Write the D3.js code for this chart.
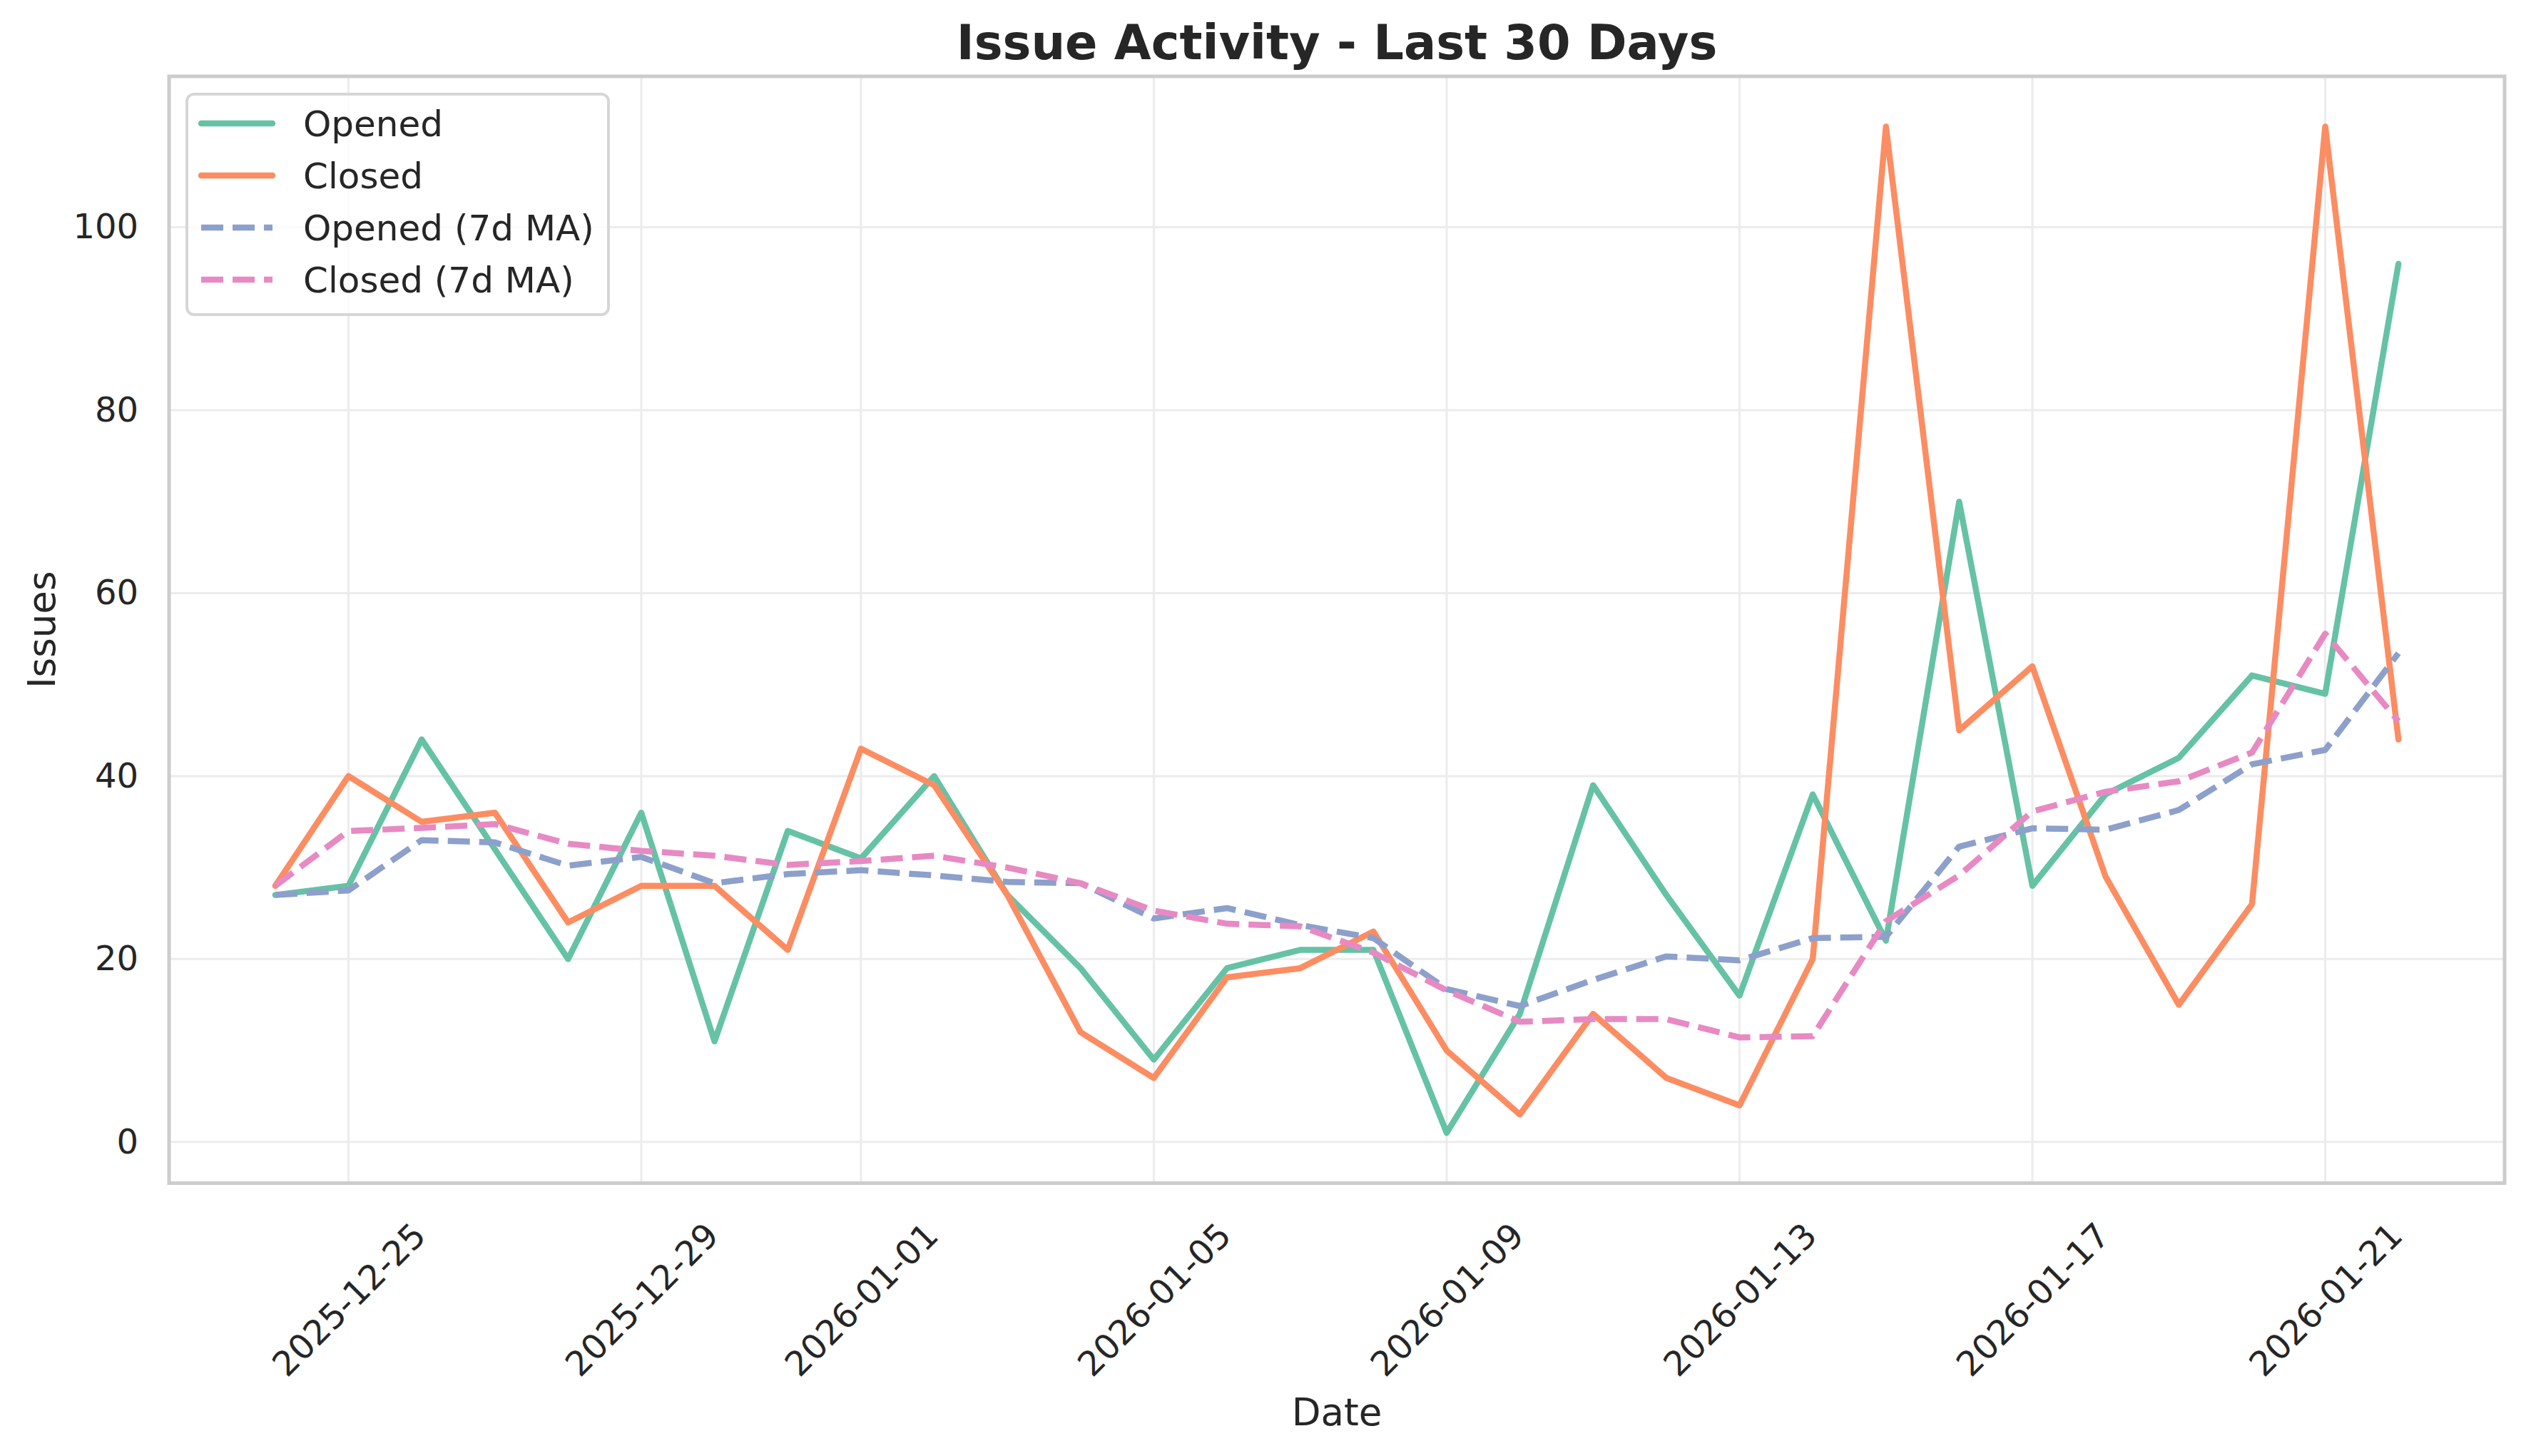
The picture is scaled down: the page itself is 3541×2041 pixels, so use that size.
<!DOCTYPE html>
<html>
<head>
<meta charset="utf-8">
<script src="https://cdn.jsdelivr.net/npm/d3@7"></script>
<style>
	body { margin: 0; background: #ffffff; }
	svg { display: block; }
</style>
</head>
<body>
<div id="chart"></div>
<script>

//----------------------------
// Data
//----------------------------

var startDate = "2025-12-24";

var openedCounts = [27, 28, 44, 32, 20, 36, 11, 34, 31, 40, 27, 19, 9, 19, 21,
	21, 1, 14, 39, 27, 16, 38, 22, 70, 28, 38, 42, 51, 49, 96];

// note: "closed" is taken by window.closed, hence the longer names
var closedCounts = [28, 40, 35, 36, 24, 28, 28, 21, 43, 39, 27, 12, 7, 18, 19,
	23, 10, 3, 14, 7, 4, 20, 111, 45, 52, 29, 15, 26, 111, 44];

var openedMA = [27, 27.5, 33, 32.75, 30.2, 31.17, 28.29, 29.29, 29.71, 29.14,
	28.43, 28.29, 24.43, 25.57, 23.71, 22.29, 16.71, 14.86, 17.71, 20.29,
	19.86, 22.29, 22.43, 32.29, 34.29, 34.14, 36.29, 41.29, 42.86, 53.43];

var closedMA = [28, 34, 34.33, 34.75, 32.6, 31.83, 31.29, 30.29, 30.71, 31.29,
	30, 28.29, 25.29, 23.86, 23.57, 20.71, 16.57, 13.14, 13.43, 13.43,
	11.43, 11.57, 24.14, 29.14, 36.14, 38.29, 39.43, 42.57, 55.57, 46];

var xTickLabels = ["2025-12-25", "2025-12-29", "2026-01-01", "2026-01-05",
	"2026-01-09", "2026-01-13", "2026-01-17", "2026-01-21"];

var yTickValues = [0, 20, 40, 60, 80, 100];

var seriesNames = ["Opened", "Closed", "Opened (7d MA)", "Closed (7d MA)"];
var seriesColors = ["#66c2a5", "#fc8d62", "#8da0cb", "#e78ac3"];
var seriesDashed = [false, false, true, true];

//----------------------------
// Layout
//----------------------------

var totwidth = 3541,
	totheight = 2041,
	paddingLeft = 237,
	paddingRight = 30,
	paddingTop = 107,
	paddingBottom = 382.5,
	textColor = "#262626",
	fontFamily = "'DejaVu Sans', sans-serif",
	lw = 8.5,
	dashes = "31,13";

var plotW = totwidth - paddingLeft - paddingRight,
	plotH = totheight - paddingTop - paddingBottom;

var svg = d3.select("#chart").append("svg")
	.attr("width", totwidth)
	.attr("height", totheight)
	.style("font-family", fontFamily);

svg.append("rect")
	.attr("width", totwidth)
	.attr("height", totheight)
	.attr("fill", "white");

//----------------------------
// Build the day-by-day records
//----------------------------

var parseDay = d3.utcParse("%Y-%m-%d");
var day0 = parseDay(startDate);

var dates = openedCounts.map(function(d, i) { return d3.utcDay.offset(day0, i); });
var allSeries = [openedCounts, closedCounts, openedMA, closedMA].map(function(vals, k) {
	return {
		name: seriesNames[k],
		color: seriesColors[k],
		dashed: seriesDashed[k],
		values: vals.map(function(v, i) { return {date: dates[i], value: v}; })
	};
});

//----------------------------
// Scales (matplotlib style 5% margins)
//----------------------------

var xExtent = d3.extent(dates);
var xPad = (xExtent[1] - xExtent[0]) * 0.05;
var x = d3.scaleUtc()
	.domain([new Date(+xExtent[0] - xPad), new Date(+xExtent[1] + xPad)])
	.range([paddingLeft, paddingLeft + plotW]);

var yMin = d3.min(allSeries, function(s) { return d3.min(s.values, function(d) { return d.value; }); });
var yMax = d3.max(allSeries, function(s) { return d3.max(s.values, function(d) { return d.value; }); });
var yPad = (yMax - yMin) * 0.05;
var y = d3.scaleLinear()
	.domain([yMin - yPad, yMax + yPad])
	.range([paddingTop + plotH, paddingTop]);

var xTicks = xTickLabels.map(function(s) { return parseDay(s); });

//----------------------------
// Grid
//----------------------------

var grid = svg.append("g").attr("class", "grid");

grid.selectAll("line.gx").data(xTicks).enter().append("line")
	.attr("x1", function(d) { return x(d); })
	.attr("x2", function(d) { return x(d); })
	.attr("y1", paddingTop)
	.attr("y2", paddingTop + plotH)
	.attr("stroke", "#ececec")
	.attr("stroke-width", 3);

grid.selectAll("line.gy").data(yTickValues).enter().append("line")
	.attr("x1", paddingLeft)
	.attr("x2", paddingLeft + plotW)
	.attr("y1", function(d) { return y(d); })
	.attr("y2", function(d) { return y(d); })
	.attr("stroke", "#ececec")
	.attr("stroke-width", 3);

//----------------------------
// Axes (no tick marks, whitegrid look)
//----------------------------

var yAxis = d3.axisLeft(y)
	.tickValues(yTickValues)
	.tickSize(0)
	.tickPadding(43);

var yg = svg.append("g")
	.attr("transform", "translate(" + paddingLeft + ",0)")
	.call(yAxis);
yg.select(".domain").remove();
yg.selectAll("text")
	.attr("fill", textColor)
	.style("font-size", "48px")
	.style("font-family", fontFamily);

var xAxis = d3.axisBottom(x)
	.tickValues(xTicks)
	.tickSize(0)
	.tickFormat(d3.utcFormat("%Y-%m-%d"));

var xg = svg.append("g")
	.attr("transform", "translate(0," + (paddingTop + plotH) + ")")
	.call(xAxis);
xg.select(".domain").remove();

// rotated 45 degrees, centred on the tick like matplotlib's default
xg.selectAll("text")
	.attr("fill", textColor)
	.style("font-size", "48px")
	.style("font-family", fontFamily)
	.attr("text-anchor", "middle")
	.attr("dy", null)
	.attr("y", 0)
	.attr("transform", "translate(0,163) rotate(-45)")
	.attr("dominant-baseline", "central");

//----------------------------
// Lines
//----------------------------

var linefun = d3.line()
	.x(function(d) { return x(d.date); })
	.y(function(d) { return y(d.value); });

svg.append("g")
	.attr("class", "series")
	.selectAll("path").data(allSeries).enter().append("path")
	.attr("fill", "none")
	.attr("stroke", function(d) { return d.color; })
	.attr("stroke-width", lw)
	.attr("stroke-linejoin", "round")
	.attr("stroke-linecap", function(d) { return d.dashed ? "butt" : "round"; })
	.attr("stroke-dasharray", function(d) { return d.dashed ? dashes : null; })
	.attr("d", function(d) { return linefun(d.values); });

//----------------------------
// Spines
//----------------------------

svg.append("rect")
	.attr("x", paddingLeft)
	.attr("y", paddingTop)
	.attr("width", plotW)
	.attr("height", plotH)
	.attr("fill", "none")
	.attr("stroke", "#cccccc")
	.attr("stroke-width", 5);

//----------------------------
// Labels and title
//----------------------------

svg.append("text")
	.attr("x", paddingLeft + plotW / 2)
	.attr("y", 83)
	.attr("text-anchor", "middle")
	.attr("fill", textColor)
	.style("font-size", "67px")
	.style("font-weight", "bold")
	.text("Issue Activity - Last 30 Days");

svg.append("text")
	.attr("x", paddingLeft + plotW / 2)
	.attr("y", 1998)
	.attr("text-anchor", "middle")
	.attr("fill", textColor)
	.style("font-size", "53px")
	.text("Date");

svg.append("text")
	.attr("transform", "translate(77," + (paddingTop + plotH / 2) + ") rotate(-90)")
	.attr("text-anchor", "middle")
	.attr("fill", textColor)
	.style("font-size", "53px")
	.text("Issues");

//----------------------------
// Legend
//----------------------------

var legend = svg.append("g")
	.attr("transform", "translate(262,132)");

legend.append("rect")
	.attr("width", 591)
	.attr("height", 309)
	.attr("rx", 10)
	.attr("fill", "white")
	.attr("fill-opacity", 0.8)
	.attr("stroke", "#d6d6d6")
	.attr("stroke-width", 4);

var item = legend.selectAll("g.item").data(allSeries).enter().append("g")
	.attr("class", "item")
	.attr("transform", function(d, i) { return "translate(0," + (41 + i * 73) + ")"; });

item.append("line")
	.attr("x1", 20)
	.attr("x2", 120)
	.attr("stroke", function(d) { return d.color; })
	.attr("stroke-width", lw)
	.attr("stroke-linecap", function(d) { return d.dashed ? "butt" : "round"; })
	.attr("stroke-dasharray", function(d) { return d.dashed ? dashes : null; });

item.append("text")
	.attr("x", 163)
	.attr("dy", "0.35em")
	.attr("fill", textColor)
	.style("font-size", "50px")
	.text(function(d) { return d.name; });

</script>
</body>
</html>
